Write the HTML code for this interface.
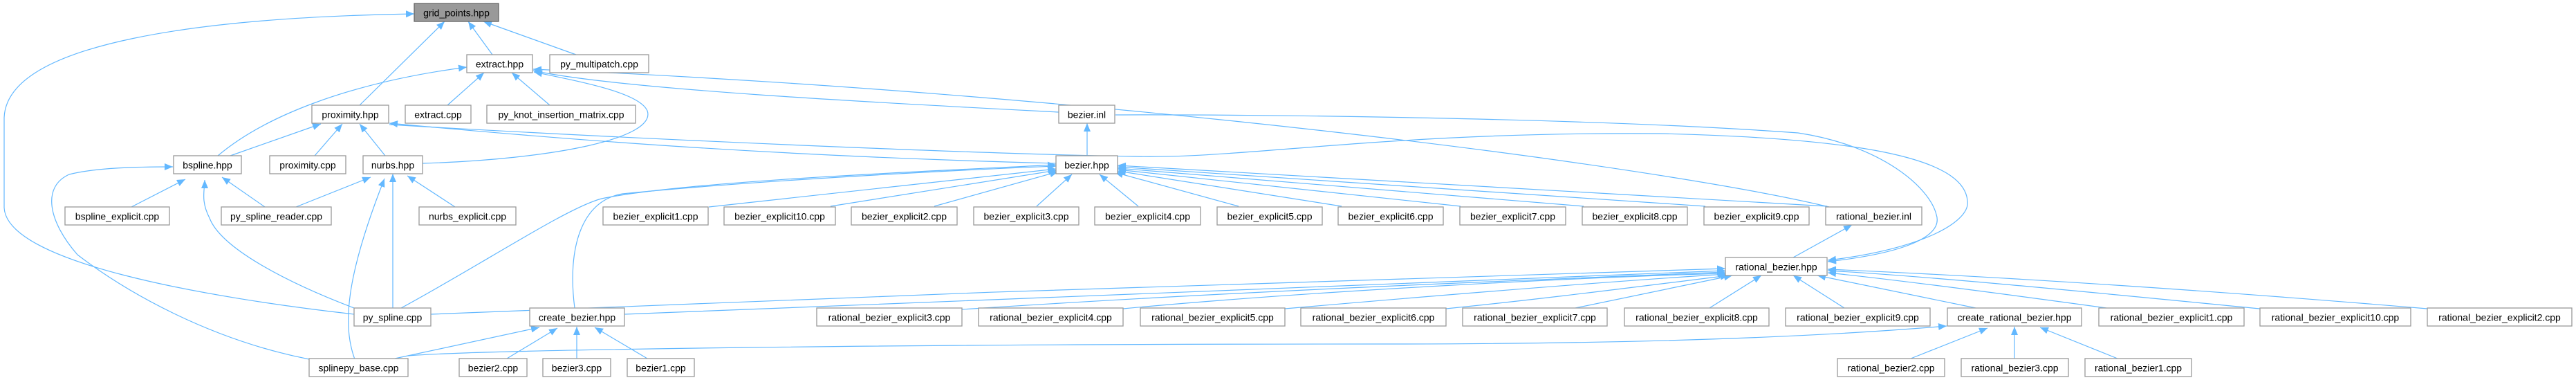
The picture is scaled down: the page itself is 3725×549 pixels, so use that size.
<!DOCTYPE html>
<html><head><meta charset="utf-8"><style>
html,body{margin:0;padding:0;background:#fff;}
svg{display:block;}
text{font-family:"Liberation Sans","DejaVu Sans",sans-serif;font-size:14px;fill:#000;}
</style></head><body>
<svg width="3725" height="549" viewBox="0 0 3725 549" xmlns="http://www.w3.org/2000/svg">
<defs>
<marker id="a" markerUnits="userSpaceOnUse" markerWidth="14" markerHeight="12" refX="12" refY="5" orient="auto">
<path d="M0,0 L12,5 L0,10 z" fill="#63b8ff"/>
</marker>
</defs>
<g fill="none" stroke="#63b8ff" stroke-width="1.2" marker-end="url(#a)">
<path d="M512,454 C300,430 10,380 6,300 L6,170 C10,60 300,25 599,20"/>
<path d="M520,152 L643,31"/>
<path d="M712,79 L677,31"/>
<path d="M833,79 L699,31"/>
<path d="M315,225 C380,170 500,120 675,97"/>
<path d="M647,152 L700,105"/>
<path d="M795,152 L740,105"/>
<path d="M611,236 C800,230 950,200 936,160 C925,135 850,120 772,104"/>
<path d="M1531,162 C1300,150 900,130 771,102"/>
<path d="M2645,299 C2400,240 1600,135 771,100"/>
<path d="M333,225 L464,179"/>
<path d="M455,225 L495,179"/>
<path d="M557,225 L520,179"/>
<path d="M1527,236 C1100,225 800,200 563,178"/>
<path d="M563,180 C900,200 1400,222 1640,226 C1800,230 2000,190 2400,193 C2700,200 2840,230 2845,290 C2850,320 2780,360 2643,376"/>
<path d="M1613,166 C1800,165 2300,170 2600,192 C2720,210 2790,270 2800,310 C2810,340 2760,365 2643,378"/>
<path d="M1572,225 L1572,178"/>
<path d="M190,299 L268,259"/>
<path d="M383,299 L321,256"/>
<path d="M512,445 C420,410 320,360 303,315 C290,290 296,275 296,260"/>
<path d="M447,519 C300,490 180,420 112,368 C70,320 60,270 100,252 C140,242 200,241 250,241"/>
<path d="M428,299 L536,256"/>
<path d="M658,299 L589,254"/>
<path d="M568,445 L568,251"/>
<path d="M513,519 C495,470 500,400 556,258"/>
<path d="M1025,299 L1527,244"/>
<path d="M1201,298 L1528,246"/>
<path d="M1351,298 L1530,248"/>
<path d="M1499,298 L1550,252"/>
<path d="M1646,298 L1590,252"/>
<path d="M1791,298 L1612,249"/>
<path d="M1940,298 L1616,247"/>
<path d="M2112,298 L1616,245"/>
<path d="M2290,298 L1616,243"/>
<path d="M2466,298 L1616,241"/>
<path d="M2642,298 L1616,239"/>
<path d="M831,445 C820,360 840,290 900,280 C1100,260 1400,245 1527,240"/>
<path d="M580,445 C700,380 820,300 870,287 C1000,260 1400,245 1527,238"/>
<path d="M2593,372 L2678,325"/>
<path d="M623,454 C1200,430 2000,400 2495,388"/>
<path d="M903,454 C1400,435 2000,410 2495,391"/>
<path d="M1391,447 C1800,420 2200,405 2495,393"/>
<path d="M1624,446 C1900,420 2300,400 2496,395"/>
<path d="M1858,446 C2100,425 2350,405 2497,396"/>
<path d="M2091,446 C2250,430 2400,410 2500,398"/>
<path d="M2278,445 L2505,398"/>
<path d="M2472,445 L2547,398"/>
<path d="M2667,445 L2593,398"/>
<path d="M2857,445 L2628,398"/>
<path d="M3046,445 C2900,425 2750,405 2643,394"/>
<path d="M3268,446 C3000,420 2800,400 2643,391"/>
<path d="M3510,446 C3200,420 2900,400 2643,389"/>
<path d="M590,514 C700,505 1300,497 2000,497 C2400,497 2650,485 2815,471"/>
<path d="M571,518 L780,473"/>
<path d="M733,518 L806,474"/>
<path d="M834,518 L834,472"/>
<path d="M936,518 L860,473"/>
<path d="M2763,518 L2874,474"/>
<path d="M2913,518 L2913,472"/>
<path d="M3062,518 L2950,473"/>
</g>
<g stroke="#999" stroke-width="1.3" fill="#fff">
<rect x="599" y="5" width="122" height="26" fill="#999" stroke="#666"/>
<rect x="675" y="79" width="95" height="26"/>
<rect x="795" y="79" width="143" height="26"/>
<rect x="451" y="152" width="111" height="26"/>
<rect x="586" y="152" width="95" height="26"/>
<rect x="704" y="152" width="215" height="26"/>
<rect x="1531" y="152" width="81" height="26"/>
<rect x="251" y="225" width="98" height="26"/>
<rect x="390" y="225" width="110" height="26"/>
<rect x="525" y="225" width="86" height="26"/>
<rect x="1527" y="225" width="89" height="26"/>
<rect x="94" y="299" width="151" height="26"/>
<rect x="320" y="299" width="159" height="26"/>
<rect x="606" y="299" width="140" height="26"/>
<rect x="872" y="299" width="152" height="26"/>
<rect x="1047" y="299" width="161" height="26"/>
<rect x="1231" y="299" width="153" height="26"/>
<rect x="1408" y="299" width="152" height="26"/>
<rect x="1583" y="299" width="153" height="26"/>
<rect x="1760" y="299" width="152" height="26"/>
<rect x="1935" y="299" width="152" height="26"/>
<rect x="2111" y="299" width="153" height="26"/>
<rect x="2288" y="299" width="152" height="26"/>
<rect x="2464" y="299" width="152" height="26"/>
<rect x="2640" y="299" width="139" height="26"/>
<rect x="2495" y="372" width="147" height="26"/>
<rect x="512" y="445" width="111" height="26"/>
<rect x="766" y="445" width="137" height="26"/>
<rect x="1181" y="445" width="210" height="26"/>
<rect x="1415" y="445" width="209" height="26"/>
<rect x="1649" y="445" width="209" height="26"/>
<rect x="1881" y="445" width="210" height="26"/>
<rect x="2115" y="445" width="209" height="26"/>
<rect x="2349" y="445" width="209" height="26"/>
<rect x="2582" y="445" width="209" height="26"/>
<rect x="2816" y="445" width="194" height="26"/>
<rect x="3035" y="445" width="210" height="26"/>
<rect x="3268" y="445" width="218" height="26"/>
<rect x="3510" y="445" width="209" height="26"/>
<rect x="447" y="518" width="143" height="26"/>
<rect x="664" y="518" width="98" height="26"/>
<rect x="785" y="518" width="98" height="26"/>
<rect x="907" y="518" width="97" height="26"/>
<rect x="2657" y="518" width="155" height="26"/>
<rect x="2836" y="518" width="155" height="26"/>
<rect x="3015" y="518" width="154" height="26"/>
</g>
<g text-anchor="middle">
<text x="660" y="23.5">grid_points.hpp</text>
<text x="722.5" y="97.5">extract.hpp</text>
<text x="866.5" y="97.5">py_multipatch.cpp</text>
<text x="506.5" y="170.5">proximity.hpp</text>
<text x="633.5" y="170.5">extract.cpp</text>
<text x="811.5" y="170.5">py_knot_insertion_matrix.cpp</text>
<text x="1571.5" y="170.5">bezier.inl</text>
<text x="300" y="243.5">bspline.hpp</text>
<text x="445" y="243.5">proximity.cpp</text>
<text x="568" y="243.5">nurbs.hpp</text>
<text x="1571.5" y="243.5">bezier.hpp</text>
<text x="169.5" y="317.5">bspline_explicit.cpp</text>
<text x="399.5" y="317.5">py_spline_reader.cpp</text>
<text x="676" y="317.5">nurbs_explicit.cpp</text>
<text x="948" y="317.5">bezier_explicit1.cpp</text>
<text x="1127.5" y="317.5">bezier_explicit10.cpp</text>
<text x="1307.5" y="317.5">bezier_explicit2.cpp</text>
<text x="1484" y="317.5">bezier_explicit3.cpp</text>
<text x="1659.5" y="317.5">bezier_explicit4.cpp</text>
<text x="1836" y="317.5">bezier_explicit5.cpp</text>
<text x="2011" y="317.5">bezier_explicit6.cpp</text>
<text x="2187.5" y="317.5">bezier_explicit7.cpp</text>
<text x="2364" y="317.5">bezier_explicit8.cpp</text>
<text x="2540" y="317.5">bezier_explicit9.cpp</text>
<text x="2709.5" y="317.5">rational_bezier.inl</text>
<text x="2568.5" y="390.5">rational_bezier.hpp</text>
<text x="567.5" y="463.5">py_spline.cpp</text>
<text x="834.5" y="463.5">create_bezier.hpp</text>
<text x="1286" y="463.5">rational_bezier_explicit3.cpp</text>
<text x="1519.5" y="463.5">rational_bezier_explicit4.cpp</text>
<text x="1753.5" y="463.5">rational_bezier_explicit5.cpp</text>
<text x="1986" y="463.5">rational_bezier_explicit6.cpp</text>
<text x="2219.5" y="463.5">rational_bezier_explicit7.cpp</text>
<text x="2453.5" y="463.5">rational_bezier_explicit8.cpp</text>
<text x="2686.5" y="463.5">rational_bezier_explicit9.cpp</text>
<text x="2913" y="463.5">create_rational_bezier.hpp</text>
<text x="3140" y="463.5">rational_bezier_explicit1.cpp</text>
<text x="3377" y="463.5">rational_bezier_explicit10.cpp</text>
<text x="3614.5" y="463.5">rational_bezier_explicit2.cpp</text>
<text x="518.5" y="536.5">splinepy_base.cpp</text>
<text x="713" y="536.5">bezier2.cpp</text>
<text x="834" y="536.5">bezier3.cpp</text>
<text x="955.5" y="536.5">bezier1.cpp</text>
<text x="2734.5" y="536.5">rational_bezier2.cpp</text>
<text x="2913.5" y="536.5">rational_bezier3.cpp</text>
<text x="3092" y="536.5">rational_bezier1.cpp</text>
</g>
</svg>
</body></html>
